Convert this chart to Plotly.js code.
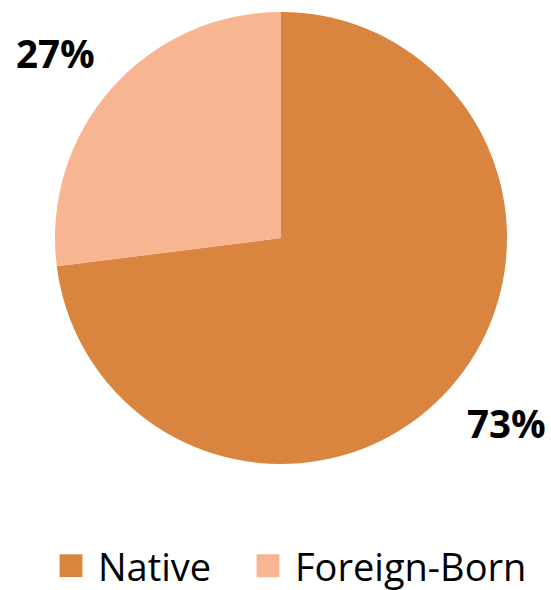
<!DOCTYPE html>
<html><head><meta charset="utf-8">
<script src="https://cdn.plot.ly/plotly-3.0.1.min.js"></script>
<style>html,body{margin:0;padding:0;background:#fff}</style>
</head><body>
<div id="chart" style="width:551px;height:590px"></div>
<script>
const categories = ["Native", "Foreign-Born"];
const values = [73, 27];
const colors = ["#D9843F", "#F8B591"];

const W = 551, H = 590;
const cx = 281, cy = 238, R = 226;
const labelDistX = 1.33, labelDistY = 1.24;

// label positions derived from slice mid-angles (clockwise from 12 o'clock)
const total = values.reduce((a, b) => a + b, 0);
let cum = 0;
const annotations = values.map((v, i) => {
  const mid = (cum + v / 2) / total * 2 * Math.PI;
  cum += v;
  const px = cx + Math.sin(mid) * R * labelDistX;
  const py = cy - Math.cos(mid) * R * labelDistY;
  return {
    xref: "paper", yref: "paper", x: px / W, y: 1 - py / H,
    xanchor: "center", yanchor: "middle", showarrow: false,
    text: Math.round(v / total * 100) + "%",
    font: {family: "Open Sans, sans-serif", size: 38.5, color: "#000", weight: "bold"}
  };
});

const data = [{
  type: "pie",
  labels: categories,
  values: values,
  sort: false,
  direction: "clockwise",
  rotation: 0,
  marker: {colors: colors, line: {width: 0}},
  textinfo: "none",
  domain: {x: [(cx - R) / W, (cx + R) / W], y: [1 - (cy + R) / H, 1 - (cy - R) / H]},
  hoverinfo: "label+percent"
}];

const layout = {
  width: W, height: H,
  margin: {l: 0, r: 0, t: 0, b: 0, autoexpand: false},
  paper_bgcolor: "#fff",
  showlegend: true,
  annotations: annotations,
  legend: {
    orientation: "h", xref: "container", yref: "container",
    x: 51 / W, xanchor: "left", y: 1 - 566 / H, yanchor: "middle",
    font: {family: "Open Sans, sans-serif", size: 38, color: "#000"},
    itemwidth: 37, entrywidth: 145, entrywidthmode: "pixels"
  }
};
Plotly.newPlot("chart", data, layout, {displayModeBar: false, staticPlot: true}).then(gd => {
  gd.querySelectorAll(".legendpoints path").forEach(p => {
    p.setAttribute("transform", "translate(20,0) scale(1.9)");
  });
  gd.querySelectorAll(".legend .scrollbox").forEach(s => s.removeAttribute("clip-path"));
});
</script>
</body></html>
